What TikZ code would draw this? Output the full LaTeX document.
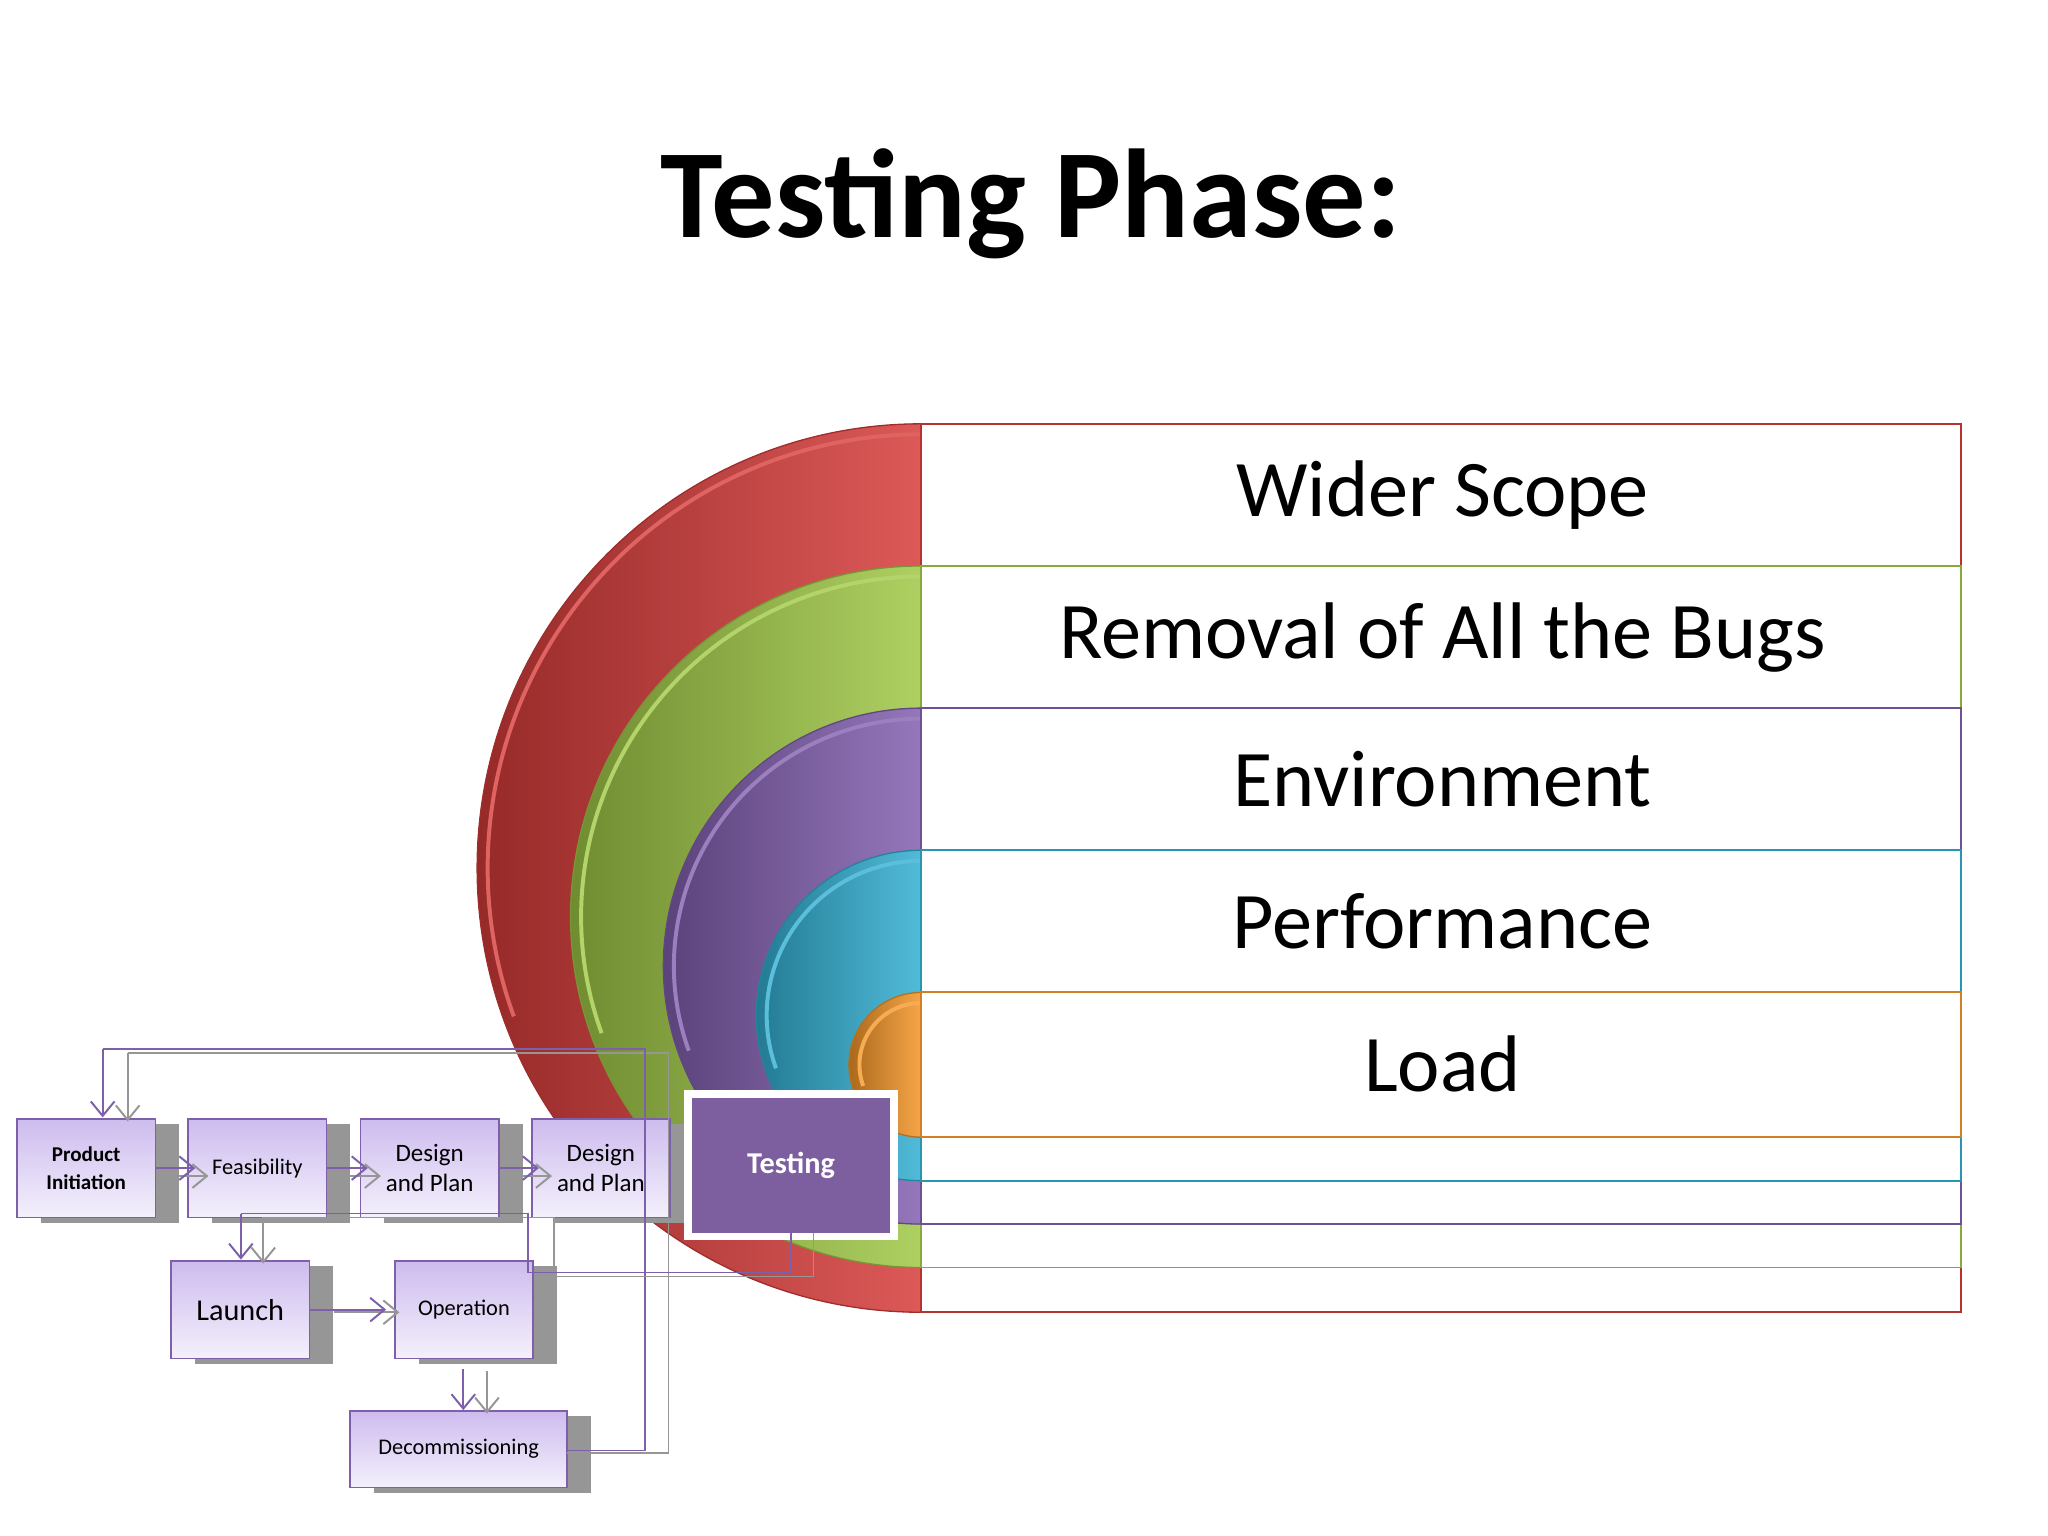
\documentclass[tikz,border=0pt]{standalone}
\usepackage{fontspec}
\setmainfont{Carlito}
\usetikzlibrary{arrows.meta,calc}
\definecolor{ringred}{RGB}{214,60,58}
\definecolor{ringgreen}{RGB}{160,200,70}
\definecolor{ringpurple}{RGB}{130,95,175}
\definecolor{ringcyan}{RGB}{50,175,210}
\definecolor{ringorange}{RGB}{245,150,40}
\definecolor{boxedge}{RGB}{125,95,170}
\definecolor{boxtop}{RGB}{205,188,238}
\definecolor{boxbot}{RGB}{244,240,252}
\definecolor{shadowgray}{RGB}{150,150,150}
\definecolor{testfill}{RGB}{125,95,160}
\tikzset{
  box/.style={draw=boxedge, line width=1.2pt, top color=boxtop, bottom color=boxbot,
    align=center, inner sep=0pt, font=\fontsize{17}{20}\selectfont},
  flow/.style={draw=boxedge, line width=1.5pt, -{Straight Barb[length=11pt,width=18pt]}},
  flowshadow/.style={draw=shadowgray, line width=1.5pt, -{Straight Barb[length=11pt,width=18pt]}},
  loop/.style={draw=boxedge, line width=1.1pt},
  loopshadow/.style={draw=shadowgray, line width=1.1pt},
  label/.style={font=\fontsize{61}{66}\selectfont, anchor=center}
}
\begin{document}
\begin{tikzpicture}[x=1pt,y=1pt]
\useasboundingbox (0,0) rectangle (1556,-1167);
% title
\node[font=\bfseries\fontsize{96}{100}\selectfont] (title) at (783,-155) {Testing Phase:};
% rings and their bars
\foreach \top/\bot/\col in {322/997/ringred,430/963/ringgreen,538/930/ringpurple,646/897/ringcyan,754/864/ringorange}{
  \pgfmathsetmacro{\r}{(\bot-\top)/2}
  \fill[left color=\col!70!black, right color=\col!85!white]
    (700,-\top) arc[start angle=90,end angle=270,radius=\r] -- cycle;
  \draw[\col!75!black, line width=1pt] (700,-\top) arc[start angle=90,end angle=270,radius=\r];
  \draw[\col!80!white, line width=3pt] (700,-\top-8) arc[start angle=90,end angle=200,radius=\r-8];
  \filldraw[fill=white, draw=\col!85!black, line width=1.5pt] (700,-\top) rectangle (1490,-\bot);
}
\node[label] (l1) at (1096,-376) {Wider Scope};
\node[label] (l2) at (1096,-484) {Removal of All the Bugs};
\node[label] (l3) at (1096,-592) {Environment};
\node[label] (l4) at (1096,-700) {Performance};
\node[label] (l5) at (1096,-808) {Load};
% shadows
\foreach \x/\y/\w/\h in {13/850/105/75,143/850/105/75,274/850/105/75,404/850/105/75,130/958/105/74,300/958/105/74,266/1072/165/58}{
  \fill[shadowgray] (\x+18,-\y-4) rectangle (\x+\w+18,-\y-\h-4);
}
% boxes
\node[box, minimum width=105pt, minimum height=75pt, font=\bfseries\fontsize{16}{21}\selectfont] (pi) at (65.5,-887.5) {Product\\Initiation};
\node[box, minimum width=105pt, minimum height=75pt] (fe) at (195.5,-887.5) {Feasibility};
\node[box, minimum width=105pt, minimum height=75pt, font=\fontsize{19}{23}\selectfont] (d1) at (326.5,-887.5) {Design\\and Plan};
\node[box, minimum width=105pt, minimum height=75pt, font=\fontsize{19}{23}\selectfont] (d2) at (456.5,-887.5) {Design\\and Plan};
\node[fill=white, minimum width=162pt, minimum height=114pt, inner sep=0pt] (tw) at (601,-885) {};
\node[fill=testfill, minimum width=150pt, minimum height=103pt, text=white, font=\bfseries\fontsize{23}{26}\selectfont] (te) at (601,-885.5) {Testing};
\node[box, minimum width=105pt, minimum height=74pt, font=\fontsize{23}{26}\selectfont] (la) at (182.5,-995) {Launch};
\node[box, minimum width=105pt, minimum height=74pt] (op) at (352.5,-995) {Operation};
\node[box, minimum width=165pt, minimum height=58pt] (de) at (348.5,-1101) {Decommissioning};
% loop lines
\draw[loopshadow] (431,-1104) -- (508,-1104) -- (508,-800) -- (97,-800);
\draw[loop] (431,-1102) -- (490,-1102) -- (490,-797) -- (78,-797);
\draw[loopshadow] (618,-937) -- (618,-970) -- (421,-970) -- (421,-925) -- (200,-925);
\draw[loop] (601,-937) -- (601,-967) -- (401,-967) -- (401,-922) -- (183,-922);
% arrow heads of loops
\draw[flowshadow] (97,-800) -- (97,-852);
\draw[flow] (78,-797) -- (78,-849);
\draw[flowshadow] (200,-925) -- (200,-960);
\draw[flow] (183,-922) -- (183,-957);
% forward arrows
\foreach \a/\b in {pi/fe,fe/d1,d1/d2}{
  \draw[flowshadow] ($(\a.east)+(4,-6)$) -- ($(\b.west)+(16,-6)$);
  \draw[flow] (\a.east) -- ($(\b.west)+(6,0)$);
}
\draw[flowshadow] ($(la.east)+(18,-2)$) -- ($(op.west)+(4,-2)$);
\draw[flow] (la.east) -- ($(op.west)+(-6,0)$);
\draw[flowshadow] (370,-1042) -- (370,-1074);
\draw[flow] (352,-1040) -- (de.north -| 352,0);
\end{tikzpicture}
\end{document}
